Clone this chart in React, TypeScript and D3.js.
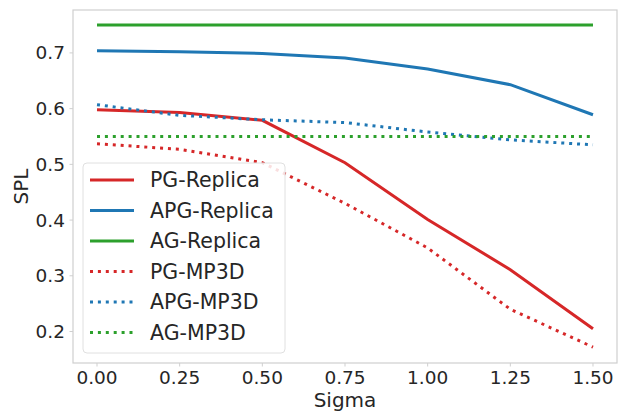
import React from 'react';
import * as d3 from 'd3';

const sigmas = [0, 0.25, 0.5, 0.75, 1.0, 1.25, 1.5];
const pgReplica = [0.598, 0.593, 0.579, 0.503, 0.401, 0.311, 0.205];
const apgReplica = [0.704, 0.702, 0.699, 0.691, 0.671, 0.643, 0.589];
const agReplica = [0.75, 0.75, 0.75, 0.75, 0.75, 0.75, 0.75];
const pgMp3d = [0.537, 0.527, 0.503, 0.43, 0.35, 0.24, 0.172];
const apgMp3d = [0.607, 0.588, 0.58, 0.575, 0.558, 0.544, 0.535];
const agMp3d = [0.55, 0.55, 0.55, 0.55, 0.55, 0.55, 0.55];

const xTicks = [0, 0.25, 0.5, 0.75, 1.0, 1.25, 1.5];
const yTicks = [0.2, 0.3, 0.4, 0.5, 0.6, 0.7];

const series = [
  { name: 'PG-Replica', values: pgReplica, color: '#d62728', dotted: false },
  { name: 'APG-Replica', values: apgReplica, color: '#1f77b4', dotted: false },
  { name: 'AG-Replica', values: agReplica, color: '#2ca02c', dotted: false },
  { name: 'PG-MP3D', values: pgMp3d, color: '#d62728', dotted: true },
  { name: 'APG-MP3D', values: apgMp3d, color: '#1f77b4', dotted: true },
  { name: 'AG-MP3D', values: agMp3d, color: '#2ca02c', dotted: true },
];

const W = 618;
const H = 411;
const left = 73, right = 617, top = 10, bottom = 363;
const font = 'DejaVu Sans, sans-serif';

export default function App() {
  const x = d3.scaleLinear().domain([-0.0726, 1.5726]).range([left, right]);
  const y = d3.scaleLinear().domain([0.1435, 0.777]).range([bottom, top]);
  const line = d3.line<number>()
    .x((_, i) => x(sigmas[i]))
    .y(d => y(d));

  return (
    <svg width={W} height={H} style={{ position: 'absolute', left: 0, top: 0, background: '#fff' }}
      fontFamily={font}>
      <rect x={0} y={0} width={W} height={H} fill="#fff" />
      {series.map(s => (
        <path key={s.name} d={line(s.values) || ''} fill="none" stroke={s.color}
          strokeWidth={3} strokeDasharray={s.dotted ? '3,4.9' : undefined} />
      ))}
      <rect x={left} y={top} width={right - left} height={bottom - top}
        fill="none" stroke="#cfcfcf" strokeWidth={1.2} />
      {xTicks.map(t => (
        <g key={'x' + t}>
          <line x1={x(t)} x2={x(t)} y1={bottom} y2={bottom + 3.5} stroke="#cfcfcf" />
          <text x={x(t)} y={bottom + 21} textAnchor="middle" fontSize={18.5} fill="#262626">
            {t.toFixed(2)}
          </text>
        </g>
      ))}
      {yTicks.map(t => (
        <g key={'y' + t}>
          <line x1={left - 3.5} x2={left} y1={y(t)} y2={y(t)} stroke="#cfcfcf" />
          <text x={left - 8} y={y(t)} dy="0.35em" textAnchor="end" fontSize={18.5} fill="#262626">
            {t.toFixed(1)}
          </text>
        </g>
      ))}
      <text x={345} y={407} textAnchor="middle" fontSize={20} fill="#262626">Sigma</text>
      <text transform={`translate(28,${(top + bottom) / 2}) rotate(-90)`} textAnchor="middle"
        fontSize={20} fill="#262626">SPL</text>
      <g>
        <rect x={83} y={163} width={202} height={190} rx={4} fill="#fff" fillOpacity={0.85}
          stroke="#e0e0e0" />
        {series.map((s, i) => {
          const ly = 180 + i * 30.5;
          return (
            <g key={'l' + s.name}>
              <line x1={90} x2={134} y1={ly} y2={ly} stroke={s.color} strokeWidth={3}
                strokeDasharray={s.dotted ? '3,4.9' : undefined} />
              <text x={150} y={ly} dy="0.35em" fontSize={20.5} fill="#262626">{s.name}</text>
            </g>
          );
        })}
      </g>
    </svg>
  );
}
